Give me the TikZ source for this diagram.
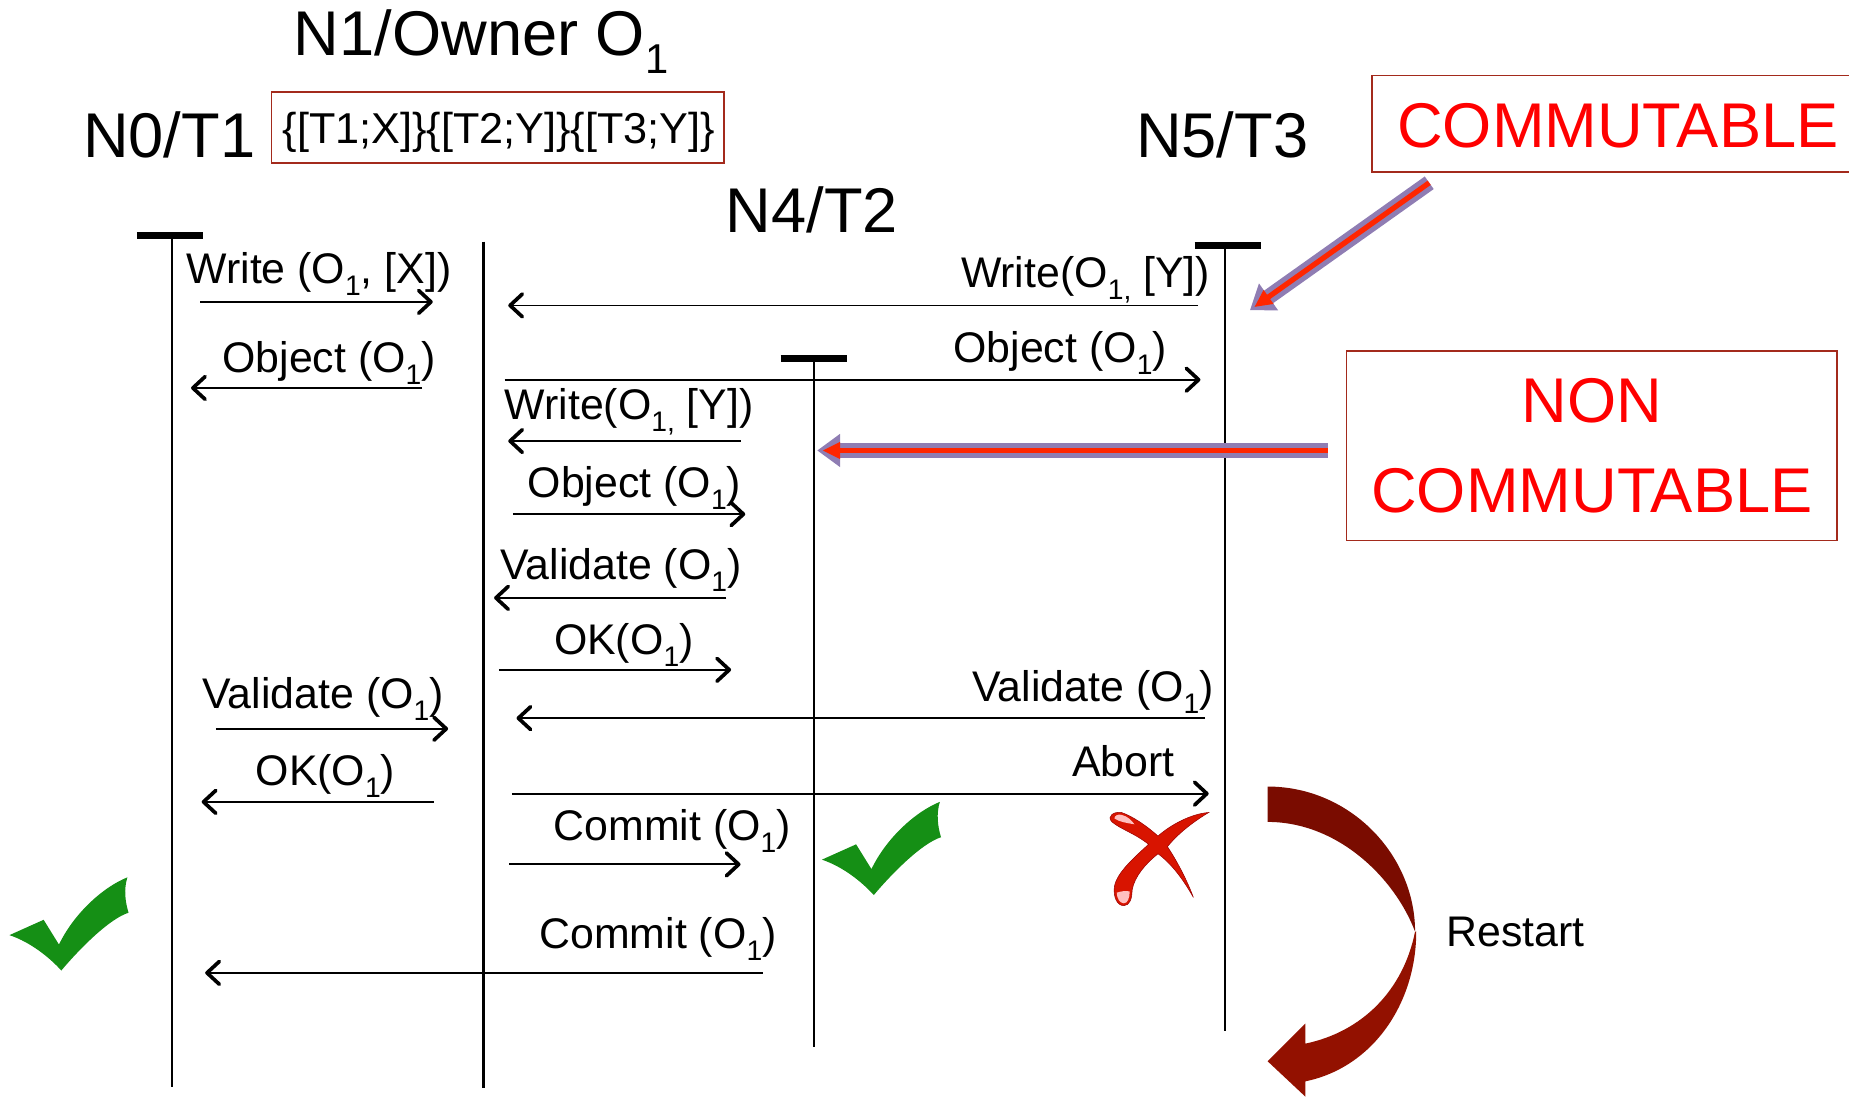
\documentclass[tikz,border=0pt]{standalone}
\usepackage{fontspec,xcolor}
\setmainfont{Liberation Sans}
\usetikzlibrary{arrows.meta,positioning}
\definecolor{boxred}{HTML}{A32A1C}
\definecolor{glow}{HTML}{8F7DB3}
\definecolor{hotred}{HTML}{FF2600}
\definecolor{checkgreen}{HTML}{158F15}
\definecolor{darkarc}{HTML}{7A0C00}
\definecolor{lowarc}{HTML}{931100}
\definecolor{crossred}{HTML}{D81400}
\newcommand{\lowsub}[1]{\raisebox{-.28em}{\scalebox{.66}{#1}}}

\begin{document}
\begin{tikzpicture}[x=.0236cm,y=-.0236cm,
 big/.style={font=\fontsize{36}{38}\selectfont,inner sep=0pt},
 lab/.style={font=\fontsize{24.4}{26}\selectfont,inner sep=0pt},
 life/.style={line width=1.2pt},
 topbar/.style={line width=4pt},
 msg/.style={line width=1.05pt,-{Straight Barb[length=7pt,width=13pt,line width=2.1pt,round]}},
 redbox/.style={draw=boxred,line width=.9pt,inner sep=0pt},
 note/.style={redbox,text=red,font=\fontsize{36}{51}\selectfont,align=center},
 hint/.style={line width=3pt,draw=hotred,shorten >=3pt,-{Triangle[length=10pt,width=9pt,fill=hotred]},
  preaction={draw=glow,line width=8.8pt,shorten >=0pt,-{Triangle[length=13pt,width=18pt,fill=glow]}}},
 greencheck/.pic={\fill[checkgreen] (0,49)--(29,36)--(42,57)
  .. controls (55,30) and (80,8) .. (100,0)
  .. controls (97,10) and (98,20) .. (101,30)
  .. controls (85,35) and (60,60) .. (44,79)
  .. controls (34,68) and (18,55) .. (0,49)--cycle;}]
 \clip (0,0) rectangle (1568,930.2);
 % headers
 \node[big] (n1) at (408,35) {N1/Owner O\lowsub{1}};
 \node[big] (n0) at (143.5,114) {N0/T1};
 \node[big] (n4) at (688.5,178) {N4/T2};
 \node[big] (n5) at (1036.5,114) {N5/T3};
 \node[redbox,minimum width=9.06cm,minimum height=1.416cm] (log) at (422,108) {};
 \node[font=\fontsize{24.6}{27}\selectfont,inner sep=0pt] (logtxt) at (423,112) {\{[T1;X]\}\{[T2;Y]\}\{[T3;Y]\}};
 \node[redbox,minimum width=9.84cm,minimum height=1.935cm] (comm) at (1372,105) {};
 \node[text=red,font=\fontsize{36}{51}\selectfont,inner sep=0pt] (commtxt) at (1372,107) {COMMUTABLE};
 \node[note,minimum width=9.82cm,minimum height=3.8cm] (noncomm) at (1350,378) {NON\\COMMUTABLE};
 % lifelines
 \foreach \n/\xx/\ya/\yb in {tone/145.5/200/922,town/410/205/923,ttwo/690.5/304/888,tthree/1039/208/874}{
  \coordinate (\n) at (\xx,\ya);
  \coordinate (\n e) at (\xx,\yb);
  \draw[life] (\n)--(\n e);
 }
 \foreach \n/\xa/\xb/\yy in {tone/116/172/200,ttwo/662/718/304,tthree/1013/1069/208}{
  \coordinate (\n a) at (\xa,\yy);
  \coordinate (\n b) at (\xb,\yy);
  \draw[topbar] (\n a)--(\n b);
 }
 % messages
 \foreach \n/\xa/\xb/\yy in {ma/170/367/256,mb/1016/431/259,mc/358/162/329,md/428/1018/322,
  me/628/431/374,mf/435/632/436,mg/616/419/507,mh/423/620/568,mi/1022/438/609,mj/183/380/618,
  mk/368/171/680,ml/434/1025/673,mm/432/628/733,mn/647/174/825}{
  \coordinate (\n s) at (\xa,\yy);
  \coordinate (\n e) at (\xb,\yy);
  \draw[msg] (\n s)--(\n e);
 }
 \node[lab] (la) at (270.5,232) {Write (O\lowsub{1}, [X])};
 \node[lab] (lb) at (920.5,237) {Write(O\lowsub{1,} [Y])};
 \node[lab] (lc) at (279,308) {Object (O\lowsub{1})};
 \node[lab] (ld) at (899,299) {Object (O\lowsub{1})};
 \node[lab] (le) at (533.5,349) {Write(O\lowsub{1,} [Y])};
 \node[lab] (lf) at (538,414) {Object (O\lowsub{1})};
 \node[lab] (lg) at (526.5,483) {Validate (O\lowsub{1})};
 \node[lab] (lh) at (529,547) {OK(O\lowsub{1})};
 \node[lab] (li) at (927,587) {Validate (O\lowsub{1})};
 \node[lab] (lj) at (274,593) {Validate (O\lowsub{1})};
 \node[lab] (lk) at (276,658) {OK(O\lowsub{1})};
 \node[lab] (ll) at (952.5,645.5) {Abort};
 \node[lab] (lm) at (570,705) {Commit (O\lowsub{1})};
 \node[lab] (ln) at (558,796) {Commit (O\lowsub{1})};
 \node[lab] (rs) at (1285,790) {Restart};
 % thick pointers
 \coordinate (pa) at (1212,155);
 \coordinate (pb) at (1060,263);
 \coordinate (pc) at (1126,382);
 \coordinate (pd) at (693,382);
 \draw[hint] (pa)--(pb);
 \draw[hint,line width=2.7pt] (pc)--(pd);
 % marks
 \pic at (697,680) {greencheck};
 \pic at (8,744) {greencheck};
 \fill[crossred,draw=red!60!black,line width=.3pt] (951,689)
  .. controls (960,692) and (972,700) .. (982,709)
  .. controls (992,700) and (1010,690) .. (1025,689)
  .. controls (1010,698) and (998,708) .. (990,718)
  .. controls (1000,733) and (1008,750) .. (1012,761)
  .. controls (1003,745) and (993,732) .. (982,724)
  .. controls (972,732) and (962,743) .. (960,755)
  .. controls (960,762) and (958,768) .. (953,768)
  .. controls (947,768) and (944,760) .. (945,752)
  .. controls (947,740) and (962,727) .. (974,716)
  .. controls (963,707) and (950,703) .. (943,697)
  .. controls (938,692) and (945,688) .. (951,689)--cycle;
 \fill[red!25] (951,691) .. controls (956,692) and (960,696) .. (962,699)
  .. controls (956,698) and (949,697) .. (945,694) .. controls (945,692) and (948,690) .. (951,691)--cycle;
 \fill[red!25] (947,757) .. controls (950,756) and (955,755) .. (958,756)
  .. controls (958,762) and (956,766) .. (953,766) .. controls (950,766) and (947,762) .. (947,757)--cycle;
 % restart arrow
 \fill[darkarc] (1075,667) .. controls (1145,667) and (1200,725) .. (1200,790)
  .. controls (1183,745) and (1135,697) .. (1075,697)--cycle;
 \fill[lowarc] (1201,790) .. controls (1201,850) and (1165,905) .. (1107,917)
  --(1107,930)--(1075,900)--(1107,868)--(1107,885)
  .. controls (1155,875) and (1190,840) .. (1200,790)--cycle;
\end{tikzpicture}
\end{document}
